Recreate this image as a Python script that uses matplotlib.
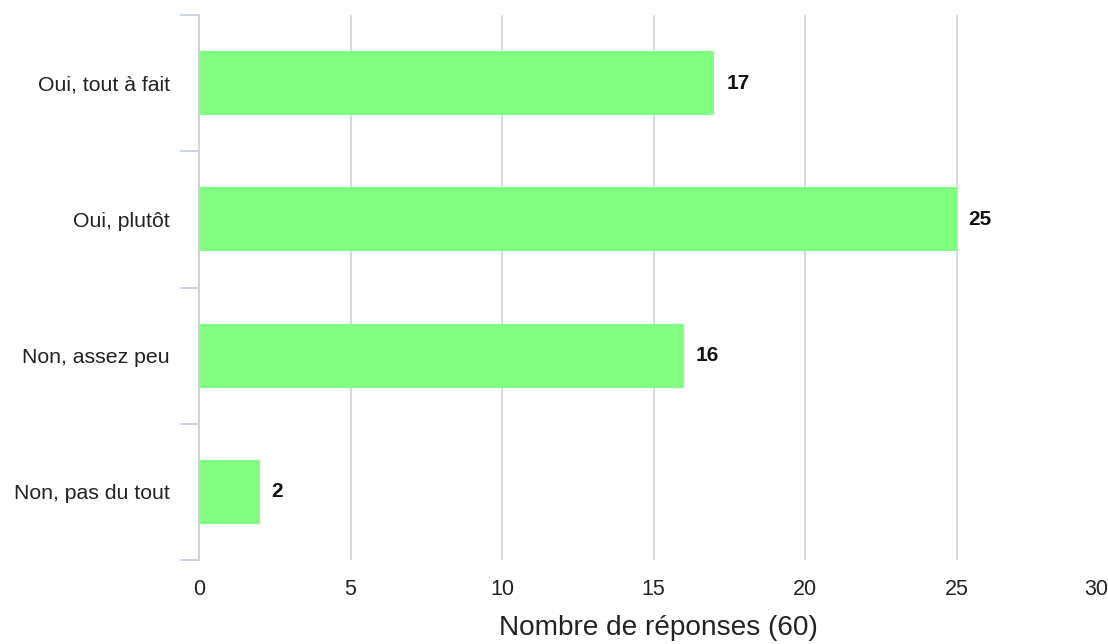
import matplotlib
matplotlib.use("Agg")
import matplotlib.pyplot as plt
import numpy as np

plt.rcParams["font.family"] = ["Liberation Sans", "DejaVu Sans"]

# Survey answers and their counts
categories = ["Oui, tout à fait", "Oui, plutôt", "Non, assez peu", "Non, pas du tout"]
counts = [17, 25, 16, 2]
total = 60
x_ticks = [0, 5, 10, 15, 20, 25, 30]

fig = plt.figure(figsize=(11.08, 6.44), dpi=100)
ax = fig.add_axes([199 / 1108, 1 - 560 / 644, 1 - 199 / 1108, (560 - 15) / 644])

y = np.arange(len(categories))
ax.barh(y, counts, height=0.47, color="#80ff80", zorder=3)

# Bold value labels at the end of each bar
for yi, v in zip(y, counts):
    ax.text(v + 0.4, yi, str(v), va="center", ha="left",
            fontsize=15, fontweight="bold", color="#111111", zorder=4)

ax.set_xlim(0, 30)
ax.set_ylim(len(categories) - 0.5, -0.5)

ax.set_xticks(x_ticks)
ax.set_xticklabels([str(t) for t in x_ticks], fontsize=15.5, color="#222222")
ax.get_xticklabels()[-1].set_horizontalalignment("right")
ax.tick_params(axis="x", length=0, pad=14)

ax.set_yticks(y)
ax.set_yticklabels(categories, fontsize=15.3, color="#222222")
ax.tick_params(axis="y", which="major", length=0, pad=21)
ax.set_yticks(np.arange(-0.5, len(categories)), minor=True)
ax.tick_params(axis="y", which="minor", length=13.7, width=1.4, color="#c8d4e3")

# Vertical grid lines behind the bars
for t in x_ticks[1:-1]:
    ax.axvline(t, color="#d9d9d9", linewidth=1.5, zorder=1)

for side in ["top", "right", "bottom"]:
    ax.spines[side].set_visible(False)
ax.spines["left"].set_color("#d4d4d4")
ax.spines["left"].set_linewidth(1.5)

fig.text(658 / 1108, 1 - 628 / 644, f"Nombre de réponses ({total})",
         ha="center", va="center", fontsize=20.2, color="#222222")

fig.savefig("out.png", dpi=100)
